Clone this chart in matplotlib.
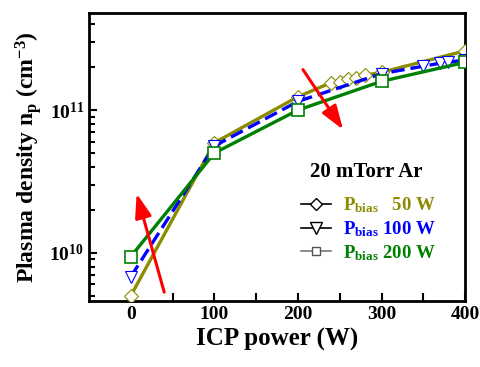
import matplotlib.pyplot as plt
from matplotlib.lines import Line2D

plt.rcParams['font.family'] = ['Liberation Serif', 'DejaVu Serif']
plt.rcParams['font.weight'] = 'bold'
plt.rcParams['mathtext.fontset'] = 'custom'
plt.rcParams['mathtext.rm'] = 'Liberation Serif:bold'
plt.rcParams['mathtext.it'] = 'Liberation Serif:bold'
plt.rcParams['mathtext.bf'] = 'Liberation Serif:bold'

# data
icp_50 = [0, 100, 200, 240, 250, 260, 270, 280, 300, 400]
np_50 = [5.0e9, 5.9e10, 1.24e11, 1.56e11, 1.58e11, 1.64e11, 1.69e11, 1.75e11, 1.84e11, 2.6e11]

icp_100 = [0, 100, 200, 300, 350, 370, 380, 400]
np_100 = [6.8e9, 5.6e10, 1.15e11, 1.8e11, 2.03e11, 2.13e11, 2.16e11, 2.25e11]

icp_200 = [0, 100, 200, 300, 400]
np_200 = [9.4e9, 5.0e10, 1.0e11, 1.59e11, 2.16e11]

labels = ['P$_{\\mathrm{bias}}$   50 W', 'P$_{\\mathrm{bias}}$ 100 W', 'P$_{\\mathrm{bias}}$ 200 W']
colors = ['#8c8c00', '#0000ff', '#008000']

fig = plt.figure(figsize=(4.81, 3.67), dpi=100)
ax = fig.add_axes([0.185, 0.18, 0.782, 0.785])

ax.plot(icp_50, np_50, color=colors[0], lw=2.4, marker='D', ms=7.5,
        mfc='white', mec=colors[0], mew=0.8, zorder=3)
ax.plot(icp_100, np_100, color=colors[1], lw=2.4, ls=(0, (4, 1.8)), marker='v', ms=9,
        mfc='white', mec=colors[1], mew=0.8, zorder=4)
ax.plot(icp_200, np_200, color=colors[2], lw=2.4, marker='s', ms=8,
        mfc='white', mec=colors[2], mew=1.2, zorder=5)

# red arrows
arrow = dict(arrowstyle='-|>,head_length=1.45,head_width=0.5', lw=2.2, color='red',
             mutation_scale=10, shrinkA=0, shrinkB=0)
ax.annotate('', xy=(7, 2.6e10), xytext=(40, 5.3e9), arrowprops=arrow, zorder=6)
ax.annotate('', xy=(254, 7.3e10), xytext=(206, 1.92e11), arrowprops=arrow, zorder=6)

ax.set_yscale('log')
ax.set_xlim(-50, 400)
ax.set_ylim(4.6e9, 4.8e11)
ax.set_xticks([0, 100, 200, 300, 400])
ax.set_xticks([50, 150, 250, 350], minor=True)
ax.tick_params(axis='both', which='both', direction='in', top=False, right=False,
               labelsize=14, width=1.5)
ax.tick_params(axis='both', which='major', length=6)
ax.tick_params(axis='both', which='minor', length=4)
ax.tick_params(axis='x', which='minor', length=6)
for s in ax.spines.values():
    s.set_linewidth(2)

ax.set_xlabel('ICP power (W)', fontsize=18, fontweight='bold', labelpad=4)
ax.set_ylabel('Plasma density n$_{\\mathrm{p}}$ (cm$^{\\mathrm{-3}}$)', fontsize=17,
              fontweight='bold', labelpad=4)

ax.text(0.737, 0.448, '20 mTorr Ar', transform=ax.transAxes, ha='center', va='center',
        fontsize=15, fontweight='bold')

handles = [
    Line2D([], [], color='black', lw=1.2, marker='D', ms=6, mfc='white', mec='black'),
    Line2D([], [], color='black', lw=1.2, marker='v', ms=8, mfc='white', mec='black'),
    Line2D([], [], color='#777777', lw=1.2, marker='s', ms=6, mfc='white', mec='#555555'),
]
leg = ax.legend(handles, labels, loc='lower left', bbox_to_anchor=(0.54, 0.1),
                frameon=False, fontsize=13.5, handlelength=1.6, handletextpad=0.6,
                labelspacing=0.22, borderpad=0)
for t, c in zip(leg.get_texts(), colors):
    t.set_color(c)

fig.savefig('out.png', dpi=100)
